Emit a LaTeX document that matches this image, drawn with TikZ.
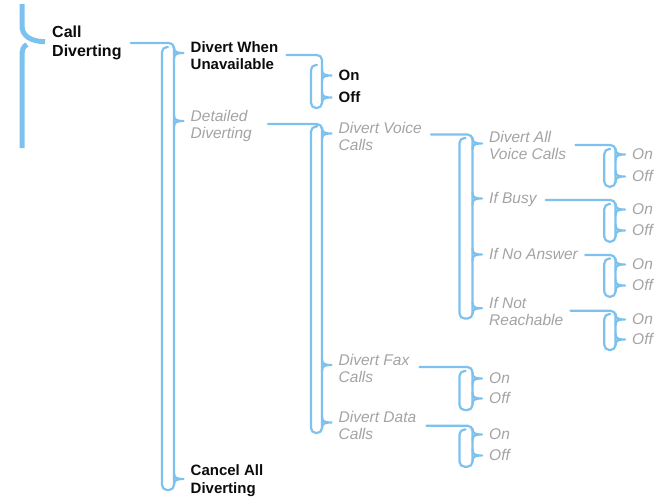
\documentclass[tikz,border=0pt]{standalone}
\usepackage{fontspec}
\setmainfont{Liberation Sans}
\usepackage{tikz}
\usetikzlibrary{calc, positioning}
\definecolor{MenuBlue}{RGB}{125,194,238}
\definecolor{ItemGrey}{RGB}{163,163,163}
\definecolor{ItemBlack}{RGB}{12,12,12}

\begin{document}
\begin{tikzpicture}[x=1pt, y=-1pt,
		item/.style={inner sep=0pt, anchor=base west, align=left},
		topitem/.style={item, text=ItemBlack, font=\fontsize{16}{19}\selectfont\bfseries},
		blkitem/.style={item, text=ItemBlack, font=\fontsize{15}{17.5}\selectfont\bfseries},
		gryitem/.style={item, text=ItemGrey, font=\fontsize{15.5}{17}\selectfont\itshape},
		br/.style={MenuBlue, line width=2.2pt, line cap=round},
		bigbr/.style={MenuBlue, line width=5pt}]
	\useasboundingbox (0,0) rectangle (665,498);

	% Menu root (two-line items sit on their last baseline)
	\node[topitem] (cd) at (52,56) {Call\\Diverting};
	\coordinate (root) at ($(cd.base west)+(-7,-14.3)$);
	\draw[bigbr] (22,4) -- (22,26) .. controls (22,36) and (31,41.5) .. (root);
	\draw[bigbr] (27,44.5) .. controls (23,46.5) and (22,50) .. (22,56) -- (22,148);

	% Level 1
	\node[blkitem] (dwu) at (190.5,69.5) {Divert When\\Unavailable};
	\node[gryitem] (dd) at (190.5,138.5) {Detailed\\Diverting};
	\node[blkitem] (cad) at (190.5,493) {Cancel All\\Diverting};

	% Level 2
	\node[blkitem] (dwuon) at (338.5,80) {On};
	\node[blkitem] (dwuoff) at (338.5,102) {Off};
	\node[gryitem] (dvc) at (338.5,150.5) {Divert Voice\\Calls};
	\node[gryitem] (dfc) at (338.5,382) {Divert Fax\\Calls};
	\node[gryitem] (ddc) at (338.5,439.5) {Divert Data\\Calls};

	% Level 3
	\node[gryitem] (dav) at (489,159.5) {Divert All\\Voice Calls};
	\node[gryitem] (ib) at (489,203) {If Busy};
	\node[gryitem] (ina) at (489,259) {If No Answer};
	\node[gryitem] (inr) at (489,325.5) {If Not\\Reachable};
	\node[gryitem] (dfcon) at (489,383) {On};
	\node[gryitem] (dfcoff) at (489,403) {Off};
	\node[gryitem] (ddcon) at (489,439) {On};
	\node[gryitem] (ddcoff) at (489,460) {Off};

	% Level 4
	\node[gryitem] (davon) at (632,159) {On};
	\node[gryitem] (davoff) at (632,181) {Off};
	\node[gryitem] (ibon) at (632,214) {On};
	\node[gryitem] (iboff) at (632,235) {Off};
	\node[gryitem] (inaon) at (632,269) {On};
	\node[gryitem] (inaoff) at (632,290) {Off};
	\node[gryitem] (inron) at (632,324) {On};
	\node[gryitem] (inroff) at (632,344) {Off};

	% brackets: parent / gap / line y / right x / left x / left top / bottom
	\foreach \p/\g/\hy/\xr/\xl/\ya/\yb in {cd/9/43/174/162/47/490, dwu/8/55/322/311/65/108,
		dd/16/124/322/311/126.5/433, dvc/9/134.5/472.5/459.5/138/318.5,
		dav/9/145/615.5/604.3/149/186.7, ib/9/200/615.5/604.3/204/241.7,
		ina/7/255/615.5/604.3/258.5/296.7, inr/7/310.7/615.5/604.3/314/350,
		dfc/10/367/472.5/459.5/371/410, ddc/10/425.7/472.5/459.5/429.5/466.7}
		\draw[br, rounded corners=5pt] (\xl+6,\ya) -- (\xl,\ya) -- (\xl,\yb) -- (\xr,\yb)
			-- (\xr,\hy) -- ($(\p.east |- 0,\hy)+(\g,0)$);

	% ticks into each item
	\foreach \c/\e in {dwu/-16.5, dd/-17.5, cad/-14, dwuon/-4.5, dwuoff/-4.5, dvc/-17,
		dfc/-17, ddc/-17, dav/-16, ib/-4.5, ina/-4.5, inr/-17.2, dfcon/-4.5, dfcoff/-4.5,
		ddcon/-4.5, ddcoff/-4.5, davon/-4.5, davoff/-4.5, ibon/-4.5, iboff/-4.5,
		inaon/-4.5, inaoff/-4.5, inron/-4.5, inroff/-4.5} {
		\coordinate (t) at ($(\c.base west)+(-7,\e)$);
		\draw[br] (t) .. controls +(-7,0) and +(0,5) .. ++(-9.5,-6)
			(t) .. controls +(-7,0) and +(0,-5) .. ++(-9.5,6);
	}
\end{tikzpicture}
\end{document}
